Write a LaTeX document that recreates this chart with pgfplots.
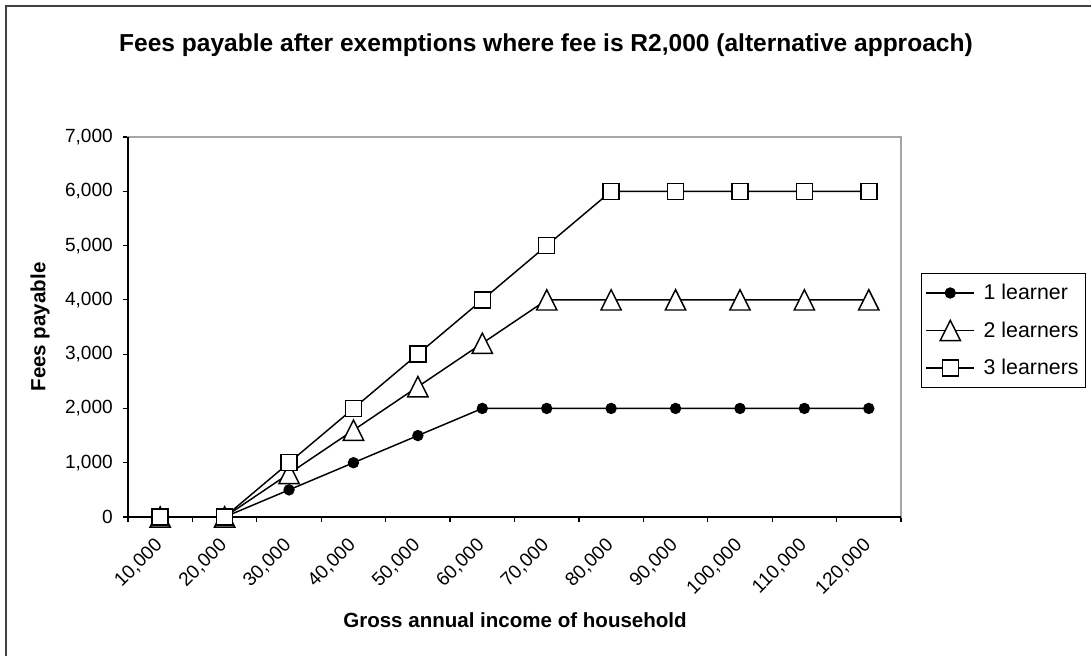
\documentclass[border=0pt]{standalone}
\usepackage{fontspec}
\setmainfont{Liberation Sans}
\usepackage{pgfplots}
\pgfplotsset{compat=1.18}
\pgfdeclareplotmark{xtri}{%
  \pgfpathmoveto{\pgfqpoint{0pt}{\pgfplotmarksize}}%
  \pgfpathlineto{\pgfqpoint{\pgfplotmarksize}{-\pgfplotmarksize}}%
  \pgfpathlineto{\pgfqpoint{-\pgfplotmarksize}{-\pgfplotmarksize}}%
  \pgfpathclose
  \pgfusepathqfillstroke}
\begin{document}
\begin{tikzpicture}
\begin{scope}[x=0.75pt,y=-0.75pt]
\useasboundingbox (0,0) rectangle (1091,656);
\draw[line width=1.5pt, draw=black!75] (6,6) rectangle (1120,690);
\node[font=\bfseries\fontsize{18.4}{22}\selectfont] at (546,45) {Fees payable after exemptions where fee is R2,000 (alternative approach)};
\node[font=\bfseries\fontsize{15.4}{18}\selectfont] at (515,620) {Gross annual income of household};
\node[font=\bfseries\fontsize{15.4}{18}\selectfont, rotate=90] at (40,327) {Fees payable};
\end{scope}
\begin{axis}[
  at={(96pt,-387.75pt)}, anchor=south west,
  width=579.75pt, height=285pt, scale only axis,
  xmin=-0.5, xmax=11.5, ymin=0, ymax=7000,
  xtick={0,...,11},
  xticklabels={{10,000},{20,000},{30,000},{40,000},{50,000},{60,000},{70,000},{80,000},{90,000},{100,000},{110,000},{120,000}},
  minor xtick={-0.5,0.5,...,11.5},
  major x tick style={draw=none},
  ytick={0,1000,...,7000},
  tick pos=left, tick align=outside,
  major tick length=3.75pt, minor tick length=3.75pt,
  tick style={black, line width=0.9pt},
  axis line style={draw=gray!70, line width=1.2pt},
  /pgf/number format/.cd, 1000 sep={,}, assume math mode=true, /pgfplots/.cd,
  ticklabel style={font=\fontsize{14.3}{17}\selectfont},
  yticklabel style={inner sep=0pt, xshift=-7.5pt},
  xticklabel style={xshift=-4.9pt, yshift=-11pt, rotate=45, anchor=north east, inner sep=0pt},
  legend style={at={(1.0259,0.642)}, anchor=north west, draw=black, line width=0.8pt,
    font=\fontsize{16}{19}\selectfont, inner xsep=3pt, inner ysep=6pt, row sep=11pt,
    column sep=4.5pt, nodes={inner sep=2pt}},
  legend cell align=left,
  legend image code/.code={\draw[mark repeat=2,mark phase=2] plot coordinates {(0pt,0pt)(18pt,0pt)(36pt,0pt)};},
  every axis plot/.append style={black, line width=1.1pt, mark options={solid, line width=1.1pt}},
  clip=false,
]
\draw[black, line width=1.2pt] (rel axis cs:0,1) -- (rel axis cs:0,0) -- (rel axis cs:1,0);
\addplot[mark=*, mark size=3.7pt, mark options={fill=black}] coordinates {
(0,0)(1,0)(2,500)(3,1000)(4,1500)(5,2000)(6,2000)(7,2000)(8,2000)(9,2000)(10,2000)(11,2000)};
\addplot[mark=xtri, mark size=7.6pt, mark options={fill=white}] coordinates {
(0,0)(1,0)(2,800)(3,1600)(4,2400)(5,3200)(6,4000)(7,4000)(8,4000)(9,4000)(10,4000)(11,4000)};
\addplot[mark=square*, mark size=6pt, mark options={fill=white}] coordinates {
(0,0)(1,0)(2,1000)(3,2000)(4,3000)(5,4000)(6,5000)(7,6000)(8,6000)(9,6000)(10,6000)(11,6000)};
\legend{1 learner, 2 learners, 3 learners}
\end{axis}
\end{tikzpicture}
\end{document}
